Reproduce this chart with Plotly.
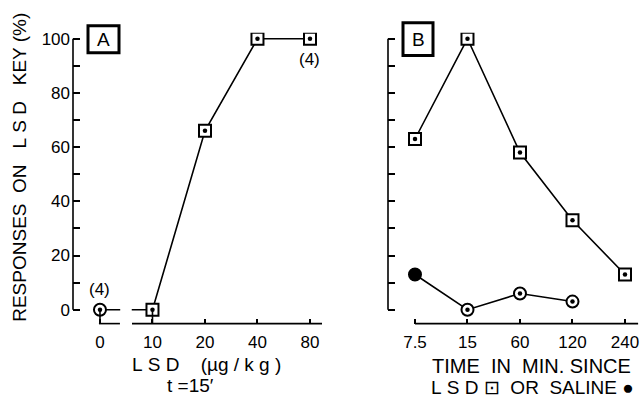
import plotly.graph_objects as go

# ---------------- data ----------------
dose_labels = ["0", "10", "20", "40", "80"]
dose_response = [0, 0, 66, 100, 100]
dose_symbols = ["circle", "square", "square", "square", "square"]

time_labels = ["7.5", "15", "60", "120", "240"]
lsd_time_response = [63, 100, 58, 33, 13]
saline_time_labels = ["7.5", "15", "60", "120"]
saline_time_response = [13, 0, 6, 3]

W, H = 643, 405
FONT = "Liberation Sans, Arial, sans-serif"

def px(x):
    return x / W

def py(y):
    return 1 - y / H

dose_pos = list(range(len(dose_labels)))
time_pos = list(range(len(time_labels)))
sal_pos = [time_labels.index(t) for t in saline_time_labels]

fig = go.Figure()

# Panel A: line + markers
fig.add_trace(go.Scatter(
    x=dose_pos, y=dose_response, mode="lines+markers",
    line=dict(color="black", width=1.6),
    marker=dict(symbol=dose_symbols, size=12, color="white",
                line=dict(color="black", width=2)),
    xaxis="x", yaxis="y", showlegend=False, hoverinfo="skip"))
fig.add_trace(go.Scatter(
    x=dose_pos, y=dose_response, mode="markers",
    marker=dict(symbol="circle", size=4.5, color="black"),
    xaxis="x", yaxis="y", showlegend=False, hoverinfo="skip"))

# Panel B: LSD series
fig.add_trace(go.Scatter(
    x=time_pos, y=lsd_time_response, mode="lines+markers",
    line=dict(color="black", width=1.6),
    marker=dict(symbol="square", size=12, color="white",
                line=dict(color="black", width=2)),
    xaxis="x2", yaxis="y2", showlegend=False, hoverinfo="skip"))
fig.add_trace(go.Scatter(
    x=time_pos, y=lsd_time_response, mode="markers",
    marker=dict(symbol="circle", size=4.5, color="black"),
    xaxis="x2", yaxis="y2", showlegend=False, hoverinfo="skip"))

# Panel B: saline series
sal_fill = ["black"] + ["white"] * (len(sal_pos) - 1)
fig.add_trace(go.Scatter(
    x=sal_pos, y=saline_time_response, mode="lines+markers",
    line=dict(color="black", width=1.6),
    marker=dict(symbol="circle", size=12, color=sal_fill,
                line=dict(color="black", width=2)),
    xaxis="x2", yaxis="y2", showlegend=False, hoverinfo="skip"))
fig.add_trace(go.Scatter(
    x=sal_pos, y=saline_time_response, mode="markers",
    marker=dict(symbol="circle", size=4.5, color="black"),
    xaxis="x2", yaxis="y2", showlegend=False, hoverinfo="skip"))

# axis geometry
yr = [-5.13, 102.2]
ydom = [py(323), py(30)]
tickfont = dict(family=FONT, size=17, color="black")

common_y = dict(range=yr, domain=ydom, showgrid=False, zeroline=False,
                showline=False, ticks="inside", ticklen=7, tickwidth=1.5,
                tickcolor="black", dtick=20, tick0=0,
                minor=dict(dtick=10, tick0=0, ticks="inside", ticklen=7,
                           tickwidth=1.5, tickcolor="black"),
                tickfont=tickfont, fixedrange=True)

fig.update_layout(
    width=W, height=H, autosize=False,
    margin=dict(l=0, r=0, t=0, b=0),
    paper_bgcolor="white", plot_bgcolor="rgba(0,0,0,0)",
    font=dict(family=FONT, color="black"),
    xaxis=dict(domain=[px(73), px(322)], range=[-0.514, 4.229],
               tickvals=dose_pos, ticktext=dose_labels, showgrid=False,
               zeroline=False, showline=False, ticks="inside", ticklen=5,
               tickwidth=1.5, tickcolor="black", tickfont=tickfont,
               ticklabelstandoff=6, anchor="y", fixedrange=True),
    yaxis=dict(anchor="x", showticklabels=True, ticklabelstandoff=2, **common_y),
    xaxis2=dict(domain=[px(388), px(640)], range=[-0.514, 4.286],
                tickvals=time_pos, ticktext=time_labels, showgrid=False,
                zeroline=False, showline=False, ticks="inside", ticklen=5,
                tickwidth=1.5, tickcolor="black", tickfont=tickfont,
                ticklabelstandoff=6, anchor="y2", fixedrange=True),
    yaxis2=dict(anchor="x2", showticklabels=False, **common_y),
)

shapes = []
lw = 1.6
# y axis lines
shapes.append(dict(type="line", xref="x domain", yref="y", x0=0, x1=0, y0=0, y1=100,
                   line=dict(color="black", width=lw)))
shapes.append(dict(type="line", xref="x2 domain", yref="y2", x0=0, x1=0, y0=0, y1=100,
                   line=dict(color="black", width=lw)))
# x axis A (broken)
shapes.append(dict(type="line", xref="x", yref="y domain", x0=-0.02, x1=0.38, y0=0, y1=0,
                   line=dict(color="black", width=lw)))
shapes.append(dict(type="line", xref="x", yref="y domain", x0=0.61, x1=4.23, y0=0, y1=0,
                   line=dict(color="black", width=lw)))
# white gap over the data line in A
shapes.append(dict(type="rect", xref="x", yref="y", x0=0.385, x1=0.605, y0=-2.5, y1=2.5,
                   fillcolor="white", line=dict(width=0), layer="above"))
# long ticks at 0 and 10
for i in (0, 1):
    shapes.append(dict(type="line", xref="x", yref="y domain", x0=i, x1=i, y0=0, y1=0.047,
                       line=dict(color="black", width=lw)))
# x axis B
shapes.append(dict(type="line", xref="x2", yref="y2 domain", x0=0, x1=4.25, y0=0, y1=0,
                   line=dict(color="black", width=lw)))
# panel label boxes
shapes.append(dict(type="rect", xref="paper", yref="paper", x0=px(88), x1=px(119),
                   y0=py(50), y1=py(23), line=dict(color="black", width=3)))
shapes.append(dict(type="rect", xref="paper", yref="paper", x0=px(403), x1=px(433),
                   y0=py(53), y1=py(20), line=dict(color="black", width=3)))
fig.update_layout(shapes=shapes)

ann = []
def text(x, y, t, size=17, xref="paper", yref="paper", **kw):
    ann.append(dict(x=x, y=y, xref=xref, yref=yref, text=t, showarrow=False,
                    xanchor="center", yanchor="middle",
                    font=dict(family=FONT, size=size, color="black"), **kw))

text(px(103.5), py(36.5), "A", size=19)
text(px(418), py(36.5), "B", size=19)
text(0, 0, "(4)", xref="x", yref="y", yshift=20, size=17)
text(4, 100, "(4)", xref="x", yref="y", yshift=-21, size=17)
text(px(20), py(166), "RESPONSES&nbsp;&nbsp;ON&nbsp;&nbsp;&nbsp;L&nbsp;S&nbsp;D&nbsp;&nbsp;&nbsp;KEY (%)",
     size=19, textangle=-90)
text(px(206), py(364), "L&nbsp;S&nbsp;D&nbsp;&nbsp;&nbsp;&nbsp;(µg&nbsp;/&nbsp;k g )", size=19)
text(px(190), py(385), "t =15′", size=19)
text(px(531), py(366), "TIME&nbsp;&nbsp;IN&nbsp;&nbsp;MIN.&nbsp;SINCE", size=20)
text(px(532), py(387), "L&nbsp;S&nbsp;D&nbsp;⊡&nbsp;&nbsp;OR&nbsp;&nbsp;SALINE&nbsp;●", size=19)
fig.update_layout(annotations=ann)

fig.write_html("out.html", config={"displayModeBar": False},
               post_script="document.body.style.margin='0';document.body.style.padding='0';")
